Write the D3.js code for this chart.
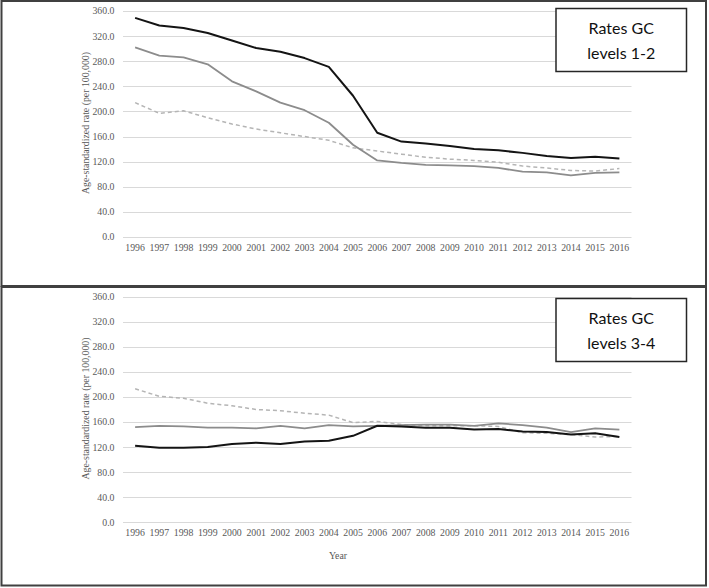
<!DOCTYPE html>
<html>
<head>
<meta charset="utf-8">
<script src="https://cdn.jsdelivr.net/npm/d3@7"></script>
<style>
  body { margin: 0; background: #fff; }
  svg { display: block; }
</style>
</head>
<body>
<div id="chart"></div>
<script>
// Data
const years = ['1996', '1997', '1998', '1999', '2000', '2001', '2002', '2003', '2004', '2005', '2006',
               '2007', '2008', '2009', '2010', '2011', '2012', '2013', '2014', '2015', '2016'];
const yTicks = [0, 40, 80, 120, 160, 200, 240, 280, 320, 360];

// levels 1-2
const top_black = [349, 337, 333, 325, 313, 301, 295, 285, 271, 225, 166, 152, 149, 145, 140, 138, 134, 129, 126, 128, 125];
const top_gray = [302, 289, 286, 275, 248, 232, 214, 202, 182, 147, 122, 118, 115, 114, 113, 110, 104, 103, 98, 102, 103];
const top_dash = [214, 197, 201, 190, 180, 172, 166, 160, 154, 142, 137, 132, 127, 124, 122, 119, 113, 110, 106, 105, 109];

// levels 3-4
const bot_black = [122, 119, 119, 120, 125, 127, 125, 129, 130, 138, 154, 153, 151, 151, 148, 149, 145, 144, 140, 142, 136];
const bot_gray = [152, 154, 153, 151, 151, 150, 154, 150, 155, 153, 154, 155, 156, 156, 154, 158, 155, 151, 144, 150, 148];
const bot_dash = [213, 201, 198, 190, 186, 180, 178, 174, 171, 159, 161, 156, 154, 154, 154, 153, 143, 142, 140, 136, 137];

const W = 709, H = 588;
const serif = '"Liberation Serif", "DejaVu Serif", serif';
const svg = d3.select('#chart').append('svg')
    .attr('width', W)
    .attr('height', H);

function drawPanel(top, yTop, yBottom, series, title, showXTitle) {
    const g = svg.append('g');

    const x = d3.scaleBand()
        .domain(years)
        .range([123, 631.5]);

    const y = d3.scaleLinear()
        .domain([0, 360])
        .range([yBottom, yTop]);

    // gridlines
    g.selectAll('.grid')
        .data(yTicks)
        .enter().append('line')
        .attr('x1', 123)
        .attr('x2', 631.5)
        .attr('y1', d => Math.round(y(d)) + 0.5)
        .attr('y2', d => Math.round(y(d)) + 0.5)
        .attr('stroke', '#d9d9d9')
        .attr('stroke-width', 1);

    // y tick labels
    g.selectAll('.ytick')
        .data(yTicks)
        .enter().append('text')
        .attr('x', 114.5)
        .attr('y', d => y(d))
        .attr('dy', '0.35em')
        .attr('text-anchor', 'end')
        .attr('font-family', serif)
        .attr('font-size', '9.8px')
        .attr('fill', '#595959')
        .text(d => d.toFixed(1));

    // x tick labels
    g.selectAll('.xtick')
        .data(years)
        .enter().append('text')
        .attr('x', d => x(d) + x.bandwidth() / 2)
        .attr('y', yBottom + 14)
        .attr('text-anchor', 'middle')
        .attr('font-family', serif)
        .attr('font-size', '9.8px')
        .attr('fill', '#595959')
        .text(d => d);

    // y axis title
    g.append('text')
        .attr('transform', `translate(86,${(yTop + yBottom) / 2 - 1}) rotate(-90)`)
        .attr('text-anchor', 'middle')
        .attr('dy', '0.35em')
        .attr('font-family', serif)
        .attr('font-size', '9.8px')
        .attr('fill', '#595959')
        .text('Age-standardized rate (per 100,000)');

    if (showXTitle) {
        g.append('text')
            .attr('x', 338)
            .attr('y', yBottom + 37)
            .attr('text-anchor', 'middle')
            .attr('font-family', serif)
            .attr('font-size', '9.8px')
            .attr('fill', '#595959')
            .text('Year');
    }

    const line = d3.line()
        .x((d, i) => x(years[i]) + x.bandwidth() / 2)
        .y(d => y(d));

    series.forEach(s => {
        g.append('path')
            .datum(s.values)
            .attr('d', line)
            .attr('fill', 'none')
            .attr('stroke', s.color)
            .attr('stroke-width', s.width)
            .attr('stroke-dasharray', s.dash || null)
            .attr('stroke-linejoin', 'round');
    });

    // label box
    const bx = 556, by = top + 8.5, bw = 130.5, bh = 63;
    g.append('rect')
        .attr('x', bx)
        .attr('y', by)
        .attr('width', bw)
        .attr('height', bh)
        .attr('fill', '#fff')
        .attr('stroke', '#262626')
        .attr('stroke-width', 1.5);

    g.selectAll('.title')
        .data(title)
        .enter().append('text')
        .attr('x', bx + bw / 2)
        .attr('y', (d, i) => by + 25 + i * 25.5)
        .attr('text-anchor', 'middle')
        .attr('font-family', 'Lato, "Open Sans", sans-serif')
        .attr('font-size', '16px')
        .attr('fill', '#111')
        .text(d => d);
}

drawPanel(0, 11, 237, [
    { values: top_dash, color: '#b5b5b5', width: 1.5, dash: '4,3' },
    { values: top_gray, color: '#8c8c8c', width: 1.8 },
    { values: top_black, color: '#141414', width: 2 }
], ['Rates GC', 'levels 1-2'], false);

drawPanel(290, 296.7, 522.3, [
    { values: bot_dash, color: '#b5b5b5', width: 1.5, dash: '4,3' },
    { values: bot_gray, color: '#8c8c8c', width: 1.8 },
    { values: bot_black, color: '#141414', width: 2 }
], ['Rates GC', 'levels 3-4'], true);

// panel borders
svg.append('rect')
    .attr('x', 1.5).attr('y', 1)
    .attr('width', 704.5).attr('height', 285)
    .attr('fill', 'none')
    .attr('stroke', '#404040')
    .attr('stroke-width', 2);

svg.append('rect')
    .attr('x', 1.5).attr('y', 287)
    .attr('width', 704.5).attr('height', 298.5)
    .attr('fill', 'none')
    .attr('stroke', '#404040')
    .attr('stroke-width', 2);
</script>
</body>
</html>
